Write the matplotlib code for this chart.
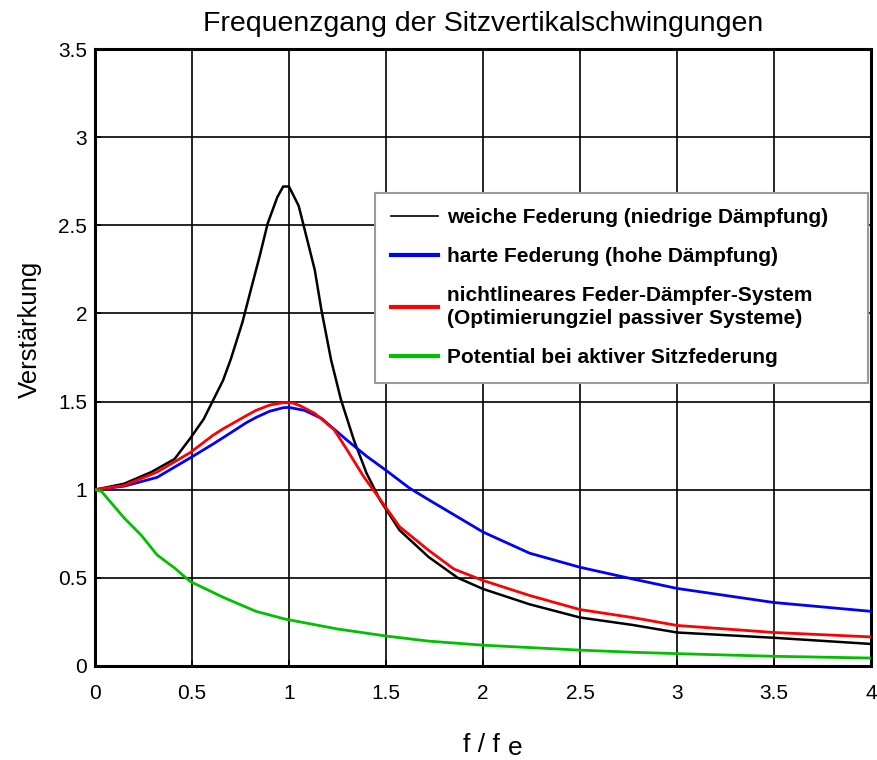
import numpy as np
import matplotlib
matplotlib.use("Agg")
from matplotlib import pyplot as plt
from matplotlib.lines import Line2D

plt.rcParams["font.family"] = ["Liberation Sans", "DejaVu Sans"]

# weiche Federung (niedrige Daempfung)
x_soft = [0, 0.15, 0.29, 0.41, 0.49, 0.56, 0.61, 0.66, 0.70, 0.76, 0.80, 0.85, 0.89, 0.94,
          0.97, 1.0, 1.05, 1.09, 1.133, 1.167, 1.217, 1.268, 1.335, 1.40, 1.47, 1.57, 1.72,
          1.87, 2.0, 2.24, 2.5, 2.77, 3.0, 3.5, 4.0]
y_soft = [1.0, 1.034, 1.10, 1.174, 1.29, 1.40, 1.51, 1.62, 1.74, 1.95, 2.12, 2.33, 2.51, 2.66,
          2.72, 2.72, 2.61, 2.435, 2.246, 2.02, 1.736, 1.51, 1.28, 1.093, 0.94, 0.77, 0.618,
          0.50, 0.437, 0.35, 0.275, 0.233, 0.19, 0.16, 0.125]

# harte Federung (hohe Daempfung)
x_hard = [0, 0.15, 0.32, 0.49, 0.61, 0.66, 0.78, 0.83, 0.9, 0.97, 1.0, 1.08, 1.167, 1.30,
          1.40, 1.50, 1.62, 1.72, 2.0, 2.24, 2.5, 2.77, 3.0, 3.5, 4.0]
y_hard = [1.0, 1.02, 1.07, 1.18, 1.26, 1.295, 1.38, 1.41, 1.445, 1.465, 1.467, 1.45, 1.405, 1.28,
          1.19, 1.11, 1.01, 0.943, 0.76, 0.64, 0.56, 0.494, 0.44, 0.36, 0.31]

# nichtlineares Feder-Daempfer-System
x_nonlin = [0, 0.15, 0.32, 0.49, 0.61, 0.66, 0.78, 0.83, 0.9, 0.97, 1.02, 1.06, 1.133, 1.233,
            1.30, 1.385, 1.486, 1.57, 1.72, 1.85, 2.0, 2.24, 2.5, 2.77, 3.0, 3.5, 4.0]
y_nonlin = [1.0, 1.024, 1.10, 1.21, 1.31, 1.345, 1.42, 1.45, 1.48, 1.494, 1.492, 1.475, 1.433,
            1.34, 1.225, 1.074, 0.92, 0.79, 0.656, 0.55, 0.485, 0.40, 0.32, 0.275, 0.23, 0.19,
            0.165]

# Potential bei aktiver Sitzfederung
x_active = [0, 0.034, 0.15, 0.24, 0.32, 0.41, 0.49, 0.66, 0.83, 0.98, 1.25, 1.5, 1.72, 2.0,
            2.5, 2.77, 3.0, 3.5, 4.0]
y_active = [1.0, 0.99, 0.84, 0.74, 0.63, 0.556, 0.48, 0.39, 0.31, 0.266, 0.21, 0.17, 0.141,
            0.118, 0.09, 0.078, 0.07, 0.055, 0.045]

labels = ["weiche Federung (niedrige Dämpfung)",
          "harte Federung (hohe Dämpfung)",
          "nichtlineares Feder-Dämpfer-System\n(Optimierungziel passiver Systeme)",
          "Potential bei aktiver Sitzfederung"]
colors = ["black", "#0000ff", "#ff0000", "#00c000"]

xticks = [0, 0.5, 1, 1.5, 2, 2.5, 3, 3.5, 4]
yticks = [0, 0.5, 1, 1.5, 2, 2.5, 3, 3.5]

fig = plt.figure(figsize=(8.77, 7.6), dpi=100)
ax = fig.add_axes([0.1083, 0.1237, 0.8849, 0.8118])

ax.plot(x_soft, y_soft, color=colors[0], lw=1.8, zorder=3)
ax.plot(x_hard, y_hard, color=colors[1], lw=2.0, zorder=3)
ax.plot(x_nonlin, y_nonlin, color=colors[2], lw=2.0, zorder=3)
ax.plot(x_active, y_active, color=colors[3], lw=2.0, zorder=3)

ax.set_xlim(0, 4)
ax.set_ylim(0, 3.5)
ax.set_xticks(xticks)
ax.set_yticks(yticks)
ax.set_xticklabels([f"{v:g}" for v in xticks])
ax.set_yticklabels([f"{v:g}" for v in yticks])
ax.tick_params(axis="both", labelsize=15, length=4, width=1.2, direction="in")
ax.tick_params(axis="x", pad=13)
ax.tick_params(axis="y", pad=5.5)
ax.grid(True, color="black", lw=1.2)
ax.set_axisbelow(True)
for s in ax.spines.values():
    s.set_linewidth(2.2)

ax.set_title("Frequenzgang der Sitzvertikalschwingungen", fontsize=20.5, pad=13)
ax.set_ylabel("Verstärkung", fontsize=18.5)
ax.yaxis.set_label_coords(-0.068, 0.545)
fig.text(0.5485, 0.0105, "f / f", fontsize=19, ha="center", va="baseline")
fig.text(0.587, 0.007, "e", fontsize=19, ha="center", va="baseline")

handles = [Line2D([], [], color=colors[0], lw=1.2),
           Line2D([], [], color=colors[1], lw=3),
           Line2D([], [], color=colors[2], lw=3),
           Line2D([], [], color=colors[3], lw=3)]
leg = ax.legend(handles, labels, loc="upper left", bbox_to_anchor=(0.361, 0.455, 0.635, 0.312),
                mode="expand", borderaxespad=0,
                prop={"weight": "bold", "size": 15}, fancybox=False, framealpha=1,
                edgecolor="#999999", handlelength=2.25, handletextpad=0.45,
                borderpad=0.75, labelspacing=0.95)
leg.get_frame().set_linewidth(1.5)
for t in leg.get_texts():
    t.set_linespacing(1.3)

fig.savefig("out.png", dpi=100)
